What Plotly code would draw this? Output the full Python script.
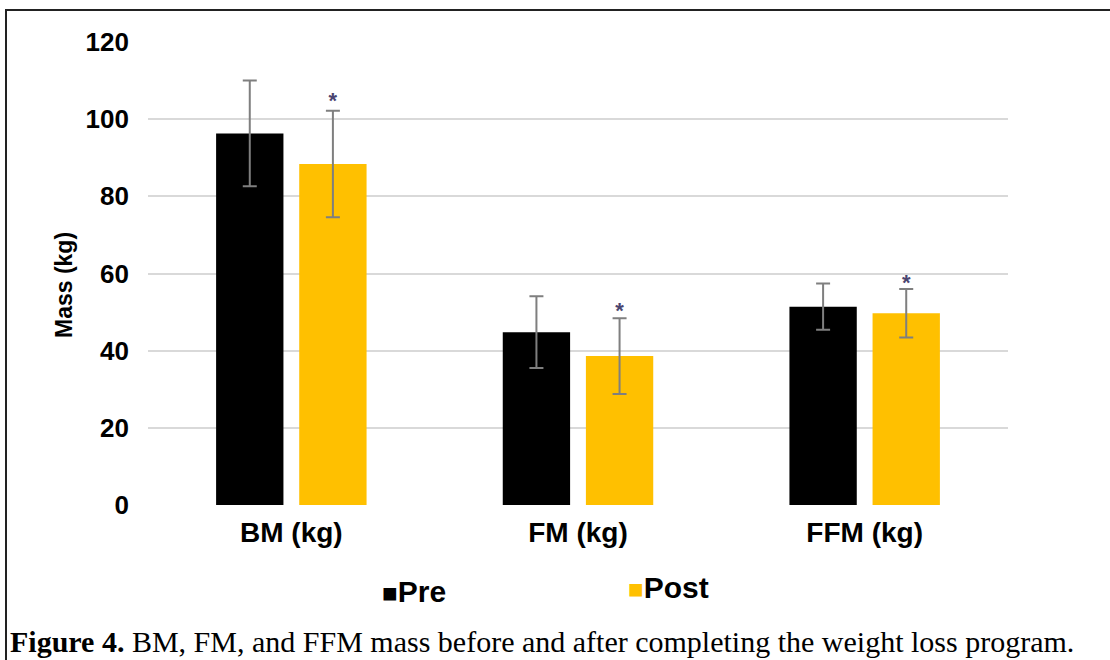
import plotly.graph_objects as go

categories = ["BM (kg)", "FM (kg)", "FFM (kg)"]
pre_mean = [96.3, 44.8, 51.4]
pre_sd = [13.7, 9.3, 6.0]
post_mean = [88.4, 38.6, 49.7]
post_sd = [13.8, 9.8, 6.3]
star_y = [104.4, 49.9, 57.1]
y_ticks = [0, 20, 40, 60, 80, 100, 120]

W, H = 1110, 660
ML, MR, MT, MB = 148, W - 1008, 42, H - 505
PW, PH = W - ML - MR, H - MT - MB

def px(x):
    return (x - ML) / PW

def py(y):
    return (H - MB - y) / PH

idx = list(range(len(categories)))
err_color = "#7f7f7f"

fig = go.Figure()
fig.add_trace(go.Bar(
    x=idx, y=pre_mean, name="Pre", marker=dict(color="#000000", line=dict(width=0)),
    error_y=dict(type="data", array=pre_sd, color=err_color, thickness=2, width=7),
))
fig.add_trace(go.Bar(
    x=idx, y=post_mean, name="Post", marker=dict(color="#FFC000", line=dict(width=0)),
    error_y=dict(type="data", array=post_sd, color=err_color, thickness=2, width=7),
))
fig.add_trace(go.Scatter(
    x=[i + 0.145 for i in idx], y=star_y, mode="text", text=["<b>*</b>"] * 3,
    textfont=dict(family="Liberation Sans", size=22, color="#4a4470"),
    textposition="middle center", showlegend=False, hoverinfo="skip",
))

fig.update_layout(
    width=W, height=H,
    margin=dict(l=ML, r=MR, t=MT, b=MB),
    paper_bgcolor="white", plot_bgcolor="white",
    barmode="group", bargap=0.42, bargroupgap=0.19,
    showlegend=False,
    font=dict(family="Liberation Sans", color="#000000"),
    xaxis=dict(
        tickmode="array", tickvals=idx, ticktext=categories,
        range=[-0.5, 2.5], showgrid=False, zeroline=False, showline=False,
        ticks="", tickfont=dict(size=28, family="Liberation Sans", weight="bold"),
        ticklabelstandoff=8,
    ),
    yaxis=dict(
        range=[0, 120], tickvals=y_ticks, showgrid=True, gridcolor="#d9d9d9",
        gridwidth=2, zeroline=False, showline=False, ticks="",
        tickfont=dict(size=26, family="Liberation Sans", weight="bold"),
        ticklabelstandoff=18,
    ),
)

# outer frame
fig.add_shape(type="rect", xref="paper", yref="paper",
              x0=px(6), x1=px(W + 20), y0=py(H + 20), y1=py(10),
              line=dict(color="#222222", width=2), fillcolor="rgba(0,0,0,0)", layer="below")

# y-axis title
fig.add_annotation(xref="paper", yref="paper", x=px(64), y=py(285), text="<b>Mass (kg)</b>",
                   showarrow=False, textangle=-90, font=dict(size=23, family="Liberation Sans"),
                   xanchor="center", yanchor="middle")

# legend
fig.add_annotation(xref="paper", yref="paper", x=px(380), y=py(591),
                   text='<span style="font-size:26px">■</span><b>Pre</b>',
                   showarrow=False, xanchor="left", yanchor="middle",
                   font=dict(size=30, family="Liberation Sans", color="#000000"))
fig.add_annotation(xref="paper", yref="paper", x=px(626), y=py(587),
                   text='<span style="font-size:26px;color:#FFC000">■</span><b>Post</b>',
                   showarrow=False, xanchor="left", yanchor="middle",
                   font=dict(size=30, family="Liberation Sans", color="#000000"))

# caption
fig.add_annotation(xref="paper", yref="paper", x=px(8), y=py(641),
                   text="<b>Figure 4.</b> BM, FM, and FFM mass before and after completing the weight loss program.",
                   showarrow=False, xanchor="left", yanchor="middle",
                   font=dict(size=30, family="Liberation Serif", color="#000000"))

fig.write_html("out.html", config={"displayModeBar": False},
               post_script="document.body.style.margin='0';document.body.style.overflow='hidden';")
